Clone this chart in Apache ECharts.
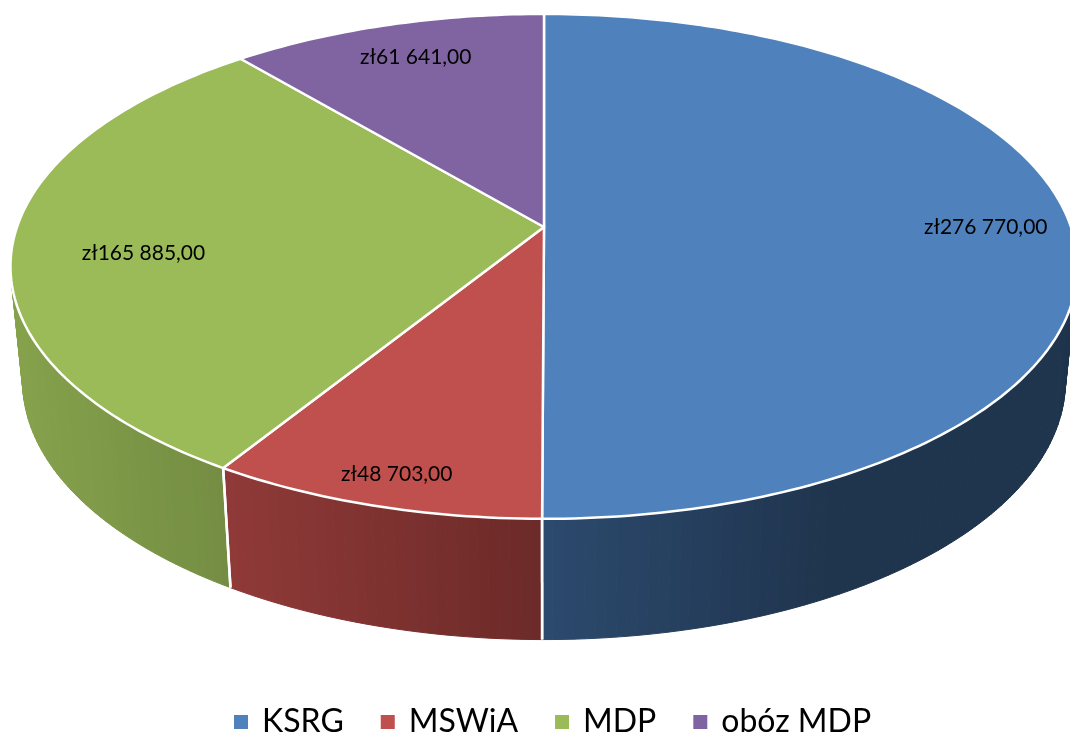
<!DOCTYPE html>
<html>
<head>
<meta charset="utf-8">
<style>
  html, body { margin: 0; padding: 0; background: #fff; }
  #chart { width: 1070px; height: 737px; }
</style>
<script src="https://cdn.jsdelivr.net/npm/echarts@6/dist/echarts.min.js"></script>
</head>
<body>
<div id="chart"></div>
<script>
// data
var names = ['KSRG', 'MSWiA', 'MDP', 'obóz MDP'];
var amounts = [276770, 48703, 165885, 61641];
var topColors = ['#4F81BD', '#C0504D', '#9BBB59', '#8064A2'];

// side wall shades, left -> right
var sideLight = ['#2C4A6E', '#903A38', '#86A24C', '#6A5387'];
var sideDark = ['#1F344D', '#6B2A28', '#748D43', '#5A4673'];
var sideFrom = [543, 230, 20, 240];
var sideTo = [830, 543, 230, 544];

// label placement, relative to the middle of each slice
var labelRadius = [0.838, 0.902, 0.755, 0.818];
var labelTurn = [0, -0.5, -4, 0.6];

// projection of the unit disc onto the screen (tilted, with perspective)
var persp = -0.156;
var topPlane = { x: 544, y: 227, bx: 527, by: 246.3 };
var bottomPlane = { x: 544, y: 341, bx: 515, by: 252 };

function project(plane, u, v) {
  var d = 1 + persp * v;
  return [plane.x + plane.bx * u / d, plane.y + plane.by * v / d];
}

// angle in degrees, clockwise from 12 o'clock
function onRim(plane, deg, r) {
  var a = deg * Math.PI / 180;
  return project(plane, r * Math.sin(a), -r * Math.cos(a));
}

function hex2rgb(c) {
  return [parseInt(c.substr(1, 2), 16), parseInt(c.substr(3, 2), 16), parseInt(c.substr(5, 2), 16)];
}

function mix(a, b, t) {
  t = Math.max(0, Math.min(1, t));
  var ca = hex2rgb(a), cb = hex2rgb(b);
  return 'rgb(' + ca.map(function (n, i) { return Math.round(n + (cb[i] - n) * t); }).join(',') + ')';
}

// 276770 -> zł276 770,00
function money(val) {
  return 'zł' + String(val).replace(/\B(?=(\d{3})+$)/g, ' ') + ',00';
}

var total = amounts.reduce(function (s, n) { return s + n; }, 0);

function sliceStart(idx) {
  var sum = 0;
  for (var i = 0; i < idx; i++) sum += amounts[i];
  return sum / total * 360;
}

// one custom series per slice, so the legend gets one entry each
function renderSlice(idx) {
  return function (params, api) {
    var start = sliceStart(idx);
    var sweep = api.value(0) / total * 360;
    var kids = [];
    var steps = Math.ceil(sweep);
    var rimTop = [], rimBottom = [];
    for (var s = 0; s <= steps; s++) {
      var deg = start + sweep * s / steps;
      rimTop.push(onRim(topPlane, deg, 1));
      rimBottom.push(onRim(bottomPlane, deg, 1));
    }

    // side wall: thin strips so the outline follows the silhouette
    for (var k = 0; k < steps; k++) {
      var midX = (rimBottom[k][0] + rimBottom[k + 1][0]) / 2;
      var shade = mix(sideLight[idx], sideDark[idx], (midX - sideFrom[idx]) / (sideTo[idx] - sideFrom[idx]));
      kids.push({
        type: 'polygon',
        z2: 1,
        shape: { points: [rimTop[k], rimTop[k + 1], rimBottom[k + 1], rimBottom[k]] },
        style: { fill: shade, stroke: shade, lineWidth: 1 }
      });
    }

    // white seams where the walls meet
    [0, steps].forEach(function (n) {
      kids.push({
        type: 'line',
        z2: 2,
        shape: { x1: rimTop[n][0], y1: rimTop[n][1], x2: rimBottom[n][0], y2: rimBottom[n][1] },
        style: { stroke: '#fff', lineWidth: 2.5 }
      });
    });

    // top face
    kids.push({
      type: 'polygon',
      z2: 3,
      shape: { points: [[topPlane.x, topPlane.y]].concat(rimTop) },
      style: { fill: topColors[idx], stroke: '#fff', lineWidth: 2.5, lineJoin: 'round' }
    });

    var spot = onRim(topPlane, start + sweep / 2 + labelTurn[idx], labelRadius[idx]);
    kids.push({
      type: 'text',
      z2: 4,
      style: {
        x: spot[0],
        y: spot[1],
        text: money(api.value(0)),
        align: 'center',
        verticalAlign: 'middle',
        fill: '#000',
        font: '21px Lato'
      }
    });
    return { type: 'group', children: kids };
  };
}

var chart = echarts.init(document.getElementById('chart'), null, { renderer: 'canvas' });
var series = names.map(function (name, i) {
  return {
    name: name,
    type: 'custom',
    coordinateSystem: 'none',
    silent: true,
    clip: false,
    itemStyle: { color: topColors[i] },
    data: [[amounts[i]]],
    renderItem: renderSlice(i)
  };
});

chart.setOption({
  animation: false,
  backgroundColor: '#fff',
  color: topColors,
  legend: {
    data: names,
    left: 234,
    top: 706,
    padding: 0,
    icon: 'rect',
    itemWidth: 14,
    itemHeight: 14,
    itemGap: 37,
    selectedMode: false,
    textStyle: { color: '#000', fontFamily: 'Lato', fontSize: 32, padding: [0, 0, 0, 9] }
  },
  series: series
});
</script>
</body>
</html>
